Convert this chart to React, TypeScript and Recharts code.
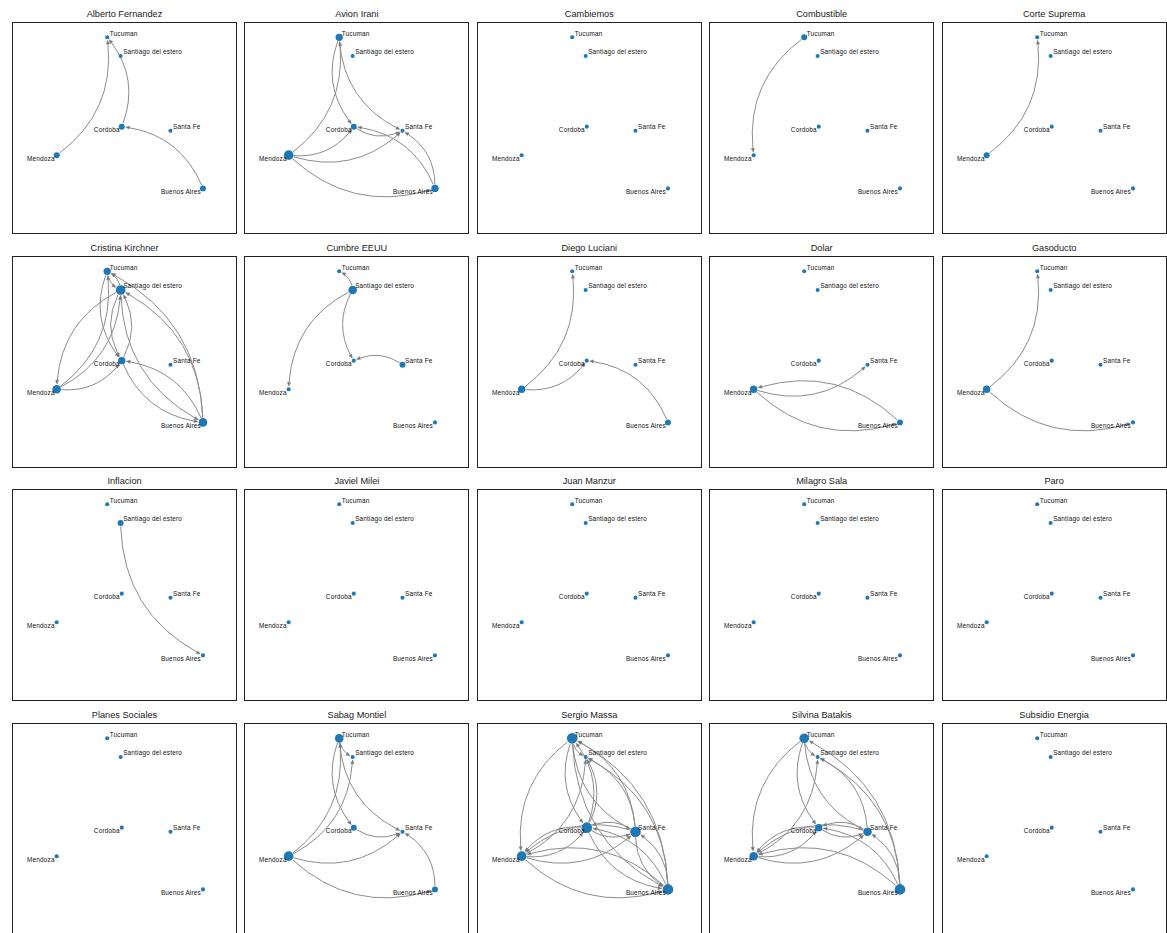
import React from "react";
import { Scatter, ScatterChart, XAxis, YAxis, ZAxis } from "recharts";

// Cities (lon / lat) used as node positions in every panel
const CITY_CODES = ["TUC", "SDE", "COR", "SFE", "MEN", "BUE"];
const CITY_NAMES = ["Tucuman", "Santiago del estero", "Cordoba", "Santa Fe", "Mendoza", "Buenos Aires"];
const CITY_LON = [-65.22, -64.26, -64.18, -60.7, -68.83, -58.38];
const CITY_LAT = [-26.82, -27.78, -31.42, -31.63, -32.89, -34.6];

type Edge = [string, string];

// Directed mentions between provinces, one list per topic
const albertoFernandezEdges: Edge[] = [["MEN", "TUC"], ["COR", "TUC"], ["BUE", "COR"]];
const avionIraniEdges: Edge[] = [
  ["TUC", "COR"], ["TUC", "SFE"], ["MEN", "TUC"], ["MEN", "COR"], ["MEN", "SFE"],
  ["MEN", "BUE"], ["BUE", "SFE"], ["BUE", "COR"], ["COR", "SFE"],
];
const combustibleEdges: Edge[] = [["TUC", "MEN"]];
const corteSupremaEdges: Edge[] = [["MEN", "TUC"]];
const cristinaKirchnerEdges: Edge[] = [
  ["TUC", "SDE"], ["TUC", "COR"], ["SDE", "TUC"], ["SDE", "MEN"], ["SDE", "COR"], ["SDE", "BUE"],
  ["COR", "SDE"], ["COR", "BUE"], ["MEN", "TUC"], ["MEN", "SDE"], ["MEN", "COR"],
  ["BUE", "TUC"], ["BUE", "SDE"], ["BUE", "COR"],
];
const cumbreEeuuEdges: Edge[] = [["SDE", "TUC"], ["SDE", "MEN"], ["SDE", "COR"], ["SFE", "COR"]];
const diegoLucianiEdges: Edge[] = [["MEN", "TUC"], ["MEN", "COR"], ["BUE", "COR"]];
const dolarEdges: Edge[] = [["MEN", "SFE"], ["MEN", "BUE"], ["BUE", "MEN"]];
const gasoductoEdges: Edge[] = [["MEN", "TUC"], ["MEN", "BUE"]];
const inflacionEdges: Edge[] = [["SDE", "BUE"]];
const sabagMontielEdges: Edge[] = [
  ["TUC", "SDE"], ["TUC", "COR"], ["TUC", "SFE"], ["MEN", "TUC"], ["MEN", "SDE"],
  ["MEN", "SFE"], ["MEN", "BUE"], ["COR", "SFE"], ["BUE", "SFE"],
];
const sergioMassaEdges: Edge[] = [
  ["TUC", "SDE"], ["TUC", "COR"], ["TUC", "MEN"], ["TUC", "SFE"], ["TUC", "BUE"],
  ["COR", "TUC"], ["COR", "MEN"], ["COR", "SFE"], ["COR", "BUE"], ["COR", "SDE"],
  ["SFE", "TUC"], ["SFE", "SDE"], ["SFE", "COR"], ["SFE", "MEN"], ["SFE", "BUE"],
  ["BUE", "TUC"], ["BUE", "SDE"], ["BUE", "COR"], ["BUE", "SFE"], ["BUE", "MEN"],
  ["MEN", "COR"], ["MEN", "SFE"], ["MEN", "BUE"], ["MEN", "SDE"],
];
const silvinaBatakisEdges: Edge[] = [
  ["TUC", "MEN"], ["TUC", "COR"], ["TUC", "SFE"], ["TUC", "SDE"],
  ["BUE", "TUC"], ["BUE", "SDE"], ["BUE", "MEN"], ["BUE", "COR"], ["BUE", "SFE"],
  ["SFE", "SDE"], ["SFE", "MEN"], ["SFE", "COR"],
  ["MEN", "SFE"], ["MEN", "COR"], ["MEN", "SDE"],
  ["COR", "SFE"], ["COR", "MEN"],
];

const TOPICS: [string, Edge[]][] = [
  ["Alberto Fernandez", albertoFernandezEdges],
  ["Avion Irani", avionIraniEdges],
  ["Cambiemos", []],
  ["Combustible", combustibleEdges],
  ["Corte Suprema", corteSupremaEdges],
  ["Cristina Kirchner", cristinaKirchnerEdges],
  ["Cumbre EEUU", cumbreEeuuEdges],
  ["Diego Luciani", diegoLucianiEdges],
  ["Dolar", dolarEdges],
  ["Gasoducto", gasoductoEdges],
  ["Inflacion", inflacionEdges],
  ["Javiel Milei", []],
  ["Juan Manzur", []],
  ["Milagro Sala", []],
  ["Paro", []],
  ["Planes Sociales", []],
  ["Sabag Montiel", sabagMontielEdges],
  ["Sergio Massa", sergioMassaEdges],
  ["Silvina Batakis", silvinaBatakisEdges],
  ["Subsidio Energia", []],
];

const PANEL_W = 225;
const PANEL_H = 212;
const COL_X0 = 12;
const COL_STEP = 232.4;
const ROW_Y0 = 22;
const ROW_STEP = 233.7;

const LON_DOMAIN: [number, number] = [-72.02, -55.95];
const LAT_DOMAIN: [number, number] = [-36.95, -26.03];
const DEG_DOMAIN: [number, number] = [0, 5];
const AREA_RANGE: [number, number] = [13, 88];

const NODE_COLOR = "#1f77b4";
const EDGE_COLOR = "#8c8c8c";
const ARROW_COLOR = "#777777";
const RAD = 0.3;
const FONT = "'Liberation Sans', Arial, Helvetica, sans-serif";
const LEFT_LABELS = new Set(["Mendoza", "Cordoba", "Buenos Aires"]);

// mirrors the ZAxis mapping so edges can stop at the node rim
function nodeRadius(deg: number) {
  const k = (deg - DEG_DOMAIN[0]) / (DEG_DOMAIN[1] - DEG_DOMAIN[0]);
  const area = AREA_RANGE[0] + (AREA_RANGE[1] - AREA_RANGE[0]) * k;
  return Math.sqrt(area / Math.PI);
}

type Pt = { x: number; y: number };

function bez(p0: Pt, c: Pt, p2: Pt, t: number): Pt {
  const a = (1 - t) * (1 - t);
  const b = 2 * (1 - t) * t;
  const d = t * t;
  return { x: a * p0.x + b * c.x + d * p2.x, y: a * p0.y + b * c.y + d * p2.y };
}

// arc3-style quadratic curve, trimmed at both nodes, with an arrowhead at the target
function arcShape(p0: Pt, p2: Pt, shrinkA: number, shrinkB: number) {
  const dx = p2.x - p0.x;
  const dy = p2.y - p0.y;
  const c = { x: (p0.x + p2.x) / 2 - RAD * dy, y: (p0.y + p2.y) / 2 + RAD * dx };
  const speedA = 2 * Math.hypot(c.x - p0.x, c.y - p0.y) || 1;
  const speedB = 2 * Math.hypot(p2.x - c.x, p2.y - c.y) || 1;
  const t0 = Math.min(0.4, shrinkA / speedA);
  const tTip = Math.max(0.55, 1 - shrinkB / speedB);

  const tip = bez(p0, c, p2, tTip);
  const tx = 2 * ((1 - tTip) * (c.x - p0.x) + tTip * (p2.x - c.x));
  const ty = 2 * ((1 - tTip) * (c.y - p0.y) + tTip * (p2.y - c.y));
  const tl = Math.hypot(tx, ty) || 1;
  const ux = tx / tl;
  const uy = ty / tl;
  const headL = 4;
  const headW = 1.7;
  const t1 = Math.max(t0 + 0.05, tTip - headL / tl);

  const start = bez(p0, c, p2, t0);
  const end = bez(p0, c, p2, t1);
  const w0 = (1 - t0) * (1 - t1);
  const w1 = (1 - t0) * t1 + t0 * (1 - t1);
  const w2 = t0 * t1;
  const ctrl = { x: w0 * p0.x + w1 * c.x + w2 * p2.x, y: w0 * p0.y + w1 * c.y + w2 * p2.y };

  const bx = tip.x - ux * headL;
  const by = tip.y - uy * headL;
  const nx = -uy * headW;
  const ny = ux * headW;

  return {
    line: `M${start.x},${start.y} Q${ctrl.x},${ctrl.y} ${end.x},${end.y}`,
    head: `M${tip.x},${tip.y} L${bx + nx},${by + ny} L${bx - nx},${by - ny} Z`,
  };
}

function makeEdgeLine(srcDeg: number, tgtDeg: number) {
  return (props: any) => {
    const pts: Pt[] = props.points || [];
    if (pts.length < 2) return <g />;
    const s = arcShape(pts[0], pts[1], nodeRadius(srcDeg) + 0.5, nodeRadius(tgtDeg) + 0.8);
    return (
      <g>
        <path d={s.line} fill="none" stroke={EDGE_COLOR} strokeWidth={1} />
        <path d={s.head} fill={ARROW_COLOR} stroke={ARROW_COLOR} strokeWidth={0.3} />
      </g>
    );
  };
}

const hiddenPoint = () => <g />;

function NodeLabel(p: any) {
  const name: string = p.payload?.name ?? "";
  const left = LEFT_LABELS.has(name);
  return (
    <text
      x={p.cx + (left ? -2 : 2.5)}
      y={p.cy + (left ? 3.2 : -4)}
      textAnchor={left ? "end" : "start"}
      dominantBaseline="central"
      fontSize={6.4}
      letterSpacing={0.2}
      fontFamily={FONT}
      fill="#111"
    >
      {name}
    </text>
  );
}

function TopicGraph({ title, edges, col, row }: { title: string; edges: Edge[]; col: number; row: number }) {
  const outDeg: Record<string, number> = {};
  CITY_CODES.forEach((c) => (outDeg[c] = 0));
  edges.forEach(([from]) => (outDeg[from] += 1));

  const nodes = CITY_CODES.map((code, i) => ({
    code,
    name: CITY_NAMES[i],
    lon: CITY_LON[i],
    lat: CITY_LAT[i],
    deg: outDeg[code],
  }));
  const byCode = (code: string) => nodes[CITY_CODES.indexOf(code)];

  const left = COL_X0 + col * COL_STEP;
  const top = ROW_Y0 + row * ROW_STEP;

  return (
    <>
      <div
        style={{
          position: "absolute",
          left,
          top: top - 14,
          width: PANEL_W,
          height: 12,
          lineHeight: "12px",
          textAlign: "center",
          fontFamily: FONT,
          fontSize: 9.2,
          color: "#1a1a1a",
          whiteSpace: "nowrap",
        }}
      >
        {title}
      </div>
      <div style={{ position: "absolute", left, top, width: PANEL_W, height: PANEL_H }}>
        <ScatterChart width={PANEL_W} height={PANEL_H} margin={{ top: 0, right: 0, bottom: 0, left: 0 }}>
          <XAxis type="number" dataKey="lon" domain={LON_DOMAIN} allowDataOverflow hide />
          <YAxis type="number" dataKey="lat" domain={LAT_DOMAIN} allowDataOverflow hide />
          <ZAxis type="number" dataKey="deg" domain={DEG_DOMAIN} range={AREA_RANGE} />
          {edges.map(([from, to], k) => {
            const a = byCode(from);
            const b = byCode(to);
            return (
              <Scatter
                key={`${from}-${to}-${k}`}
                data={[a, b]}
                shape={hiddenPoint}
                line={makeEdgeLine(a.deg, b.deg)}
                isAnimationActive={false}
              />
            );
          })}
          <Scatter data={nodes} fill={NODE_COLOR} shape="circle" isAnimationActive={false} />
          <Scatter data={nodes} shape={NodeLabel} isAnimationActive={false} />
        </ScatterChart>
        <div
          style={{
            position: "absolute",
            inset: 0,
            border: "1px solid #222",
            pointerEvents: "none",
          }}
        />
      </div>
    </>
  );
}

export default function App() {
  return (
    <div
      style={{
        position: "absolute",
        left: 0,
        top: 0,
        width: 1167,
        height: 933,
        overflow: "hidden",
        background: "#fff",
      }}
    >
      {TOPICS.map(([title, edges], i) => (
        <TopicGraph key={title} title={title} edges={edges} col={i % 5} row={Math.floor(i / 5)} />
      ))}
    </div>
  );
}
